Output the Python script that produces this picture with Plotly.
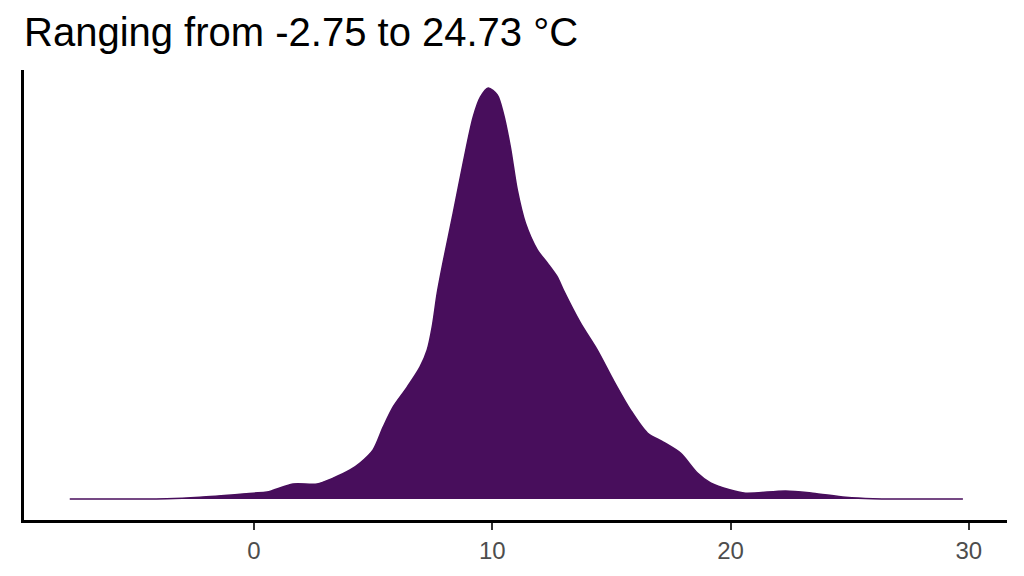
import plotly.graph_objects as go

# density curve (temperature in °C, density)
temp = [-7.73, -3.66, -2.27, -0.04, 0.55, 1.64, 2.65, 3.32, 4.03, 4.45, 5.0,
        5.42, 5.84, 6.43, 6.97, 7.27, 7.48, 7.69, 7.92, 8.36, 8.78, 9.2, 9.5,
        9.83, 10.21, 10.46, 10.76, 11.05, 11.39, 11.89, 12.31, 12.73, 12.98,
        13.7, 14.41, 15.08, 15.8, 16.51, 17.18, 17.9, 18.61, 19.16, 19.96,
        20.63, 22.31, 23.45, 24.83, 25.97, 29.75]
density = [0.0, 0.0001, 0.0005, 0.0016, 0.0019, 0.0041, 0.0041, 0.0057, 0.0079,
           0.0098, 0.0134, 0.0196, 0.0251, 0.0305, 0.036, 0.0406, 0.0469,
           0.0561, 0.064, 0.0779, 0.0916, 0.1041, 0.1095, 0.112, 0.1101,
           0.1052, 0.0959, 0.0842, 0.0752, 0.0679, 0.0643, 0.0605, 0.057,
           0.048, 0.0406, 0.0324, 0.0243, 0.018, 0.0155, 0.0125, 0.0071,
           0.0044, 0.0025, 0.0016, 0.0022, 0.0016, 0.0005, 0.0001, 0.0]

tick_vals = [0, 10, 20, 30]
purple = "#480E5C"

fig = go.Figure()
fig.add_trace(go.Scatter(x=temp, y=density, mode="lines", fill="tozeroy",
                         fillcolor=purple, line=dict(color=purple, width=1.5, shape="spline", smoothing=0.8),
                         hoverinfo="x+y"))

# page body has an 8px margin, so the figure is sized/offset to fit the window
fig.update_layout(
    width=1016, height=568,
    margin=dict(l=16, r=17, t=62, b=56),
    plot_bgcolor="white", paper_bgcolor="white",
    showlegend=False,
    title=dict(text="Ranging from -2.75 to 24.73 °C", x=16/1016, xref="container", xanchor="left",
               y=1-24/568, yanchor="middle",
               font=dict(family="Liberation Sans, Arial", size=40, color="black")),
    font=dict(family="Liberation Sans, Arial"),
)
fig.update_xaxes(range=[-9.65, 31.6], tickvals=tick_vals, showgrid=False, zeroline=False,
                 showline=True, linecolor="black", linewidth=2.5,
                 ticks="outside", ticklen=7, tickwidth=2, tickcolor="#333333",
                 tickfont=dict(size=24, color="#4D4D4D"))
fig.update_yaxes(range=[-0.00572, 0.1169], showticklabels=False, showgrid=False, zeroline=False,
                 showline=True, linecolor="black", linewidth=2.5, ticks="")

fig.write_html("out.html")
